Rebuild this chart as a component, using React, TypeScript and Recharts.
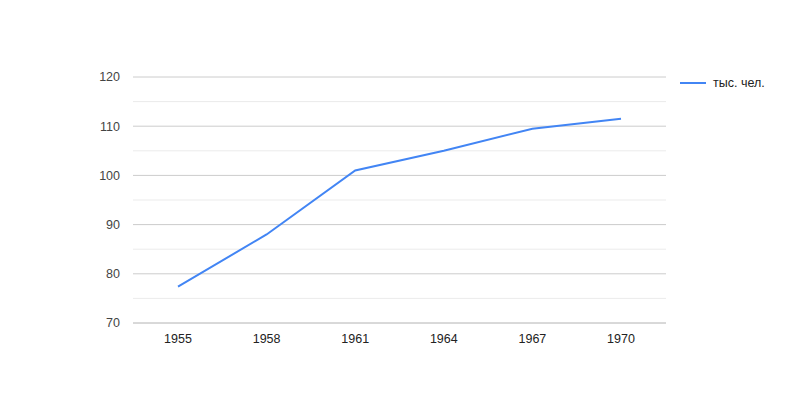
import { LineChart, Line, XAxis, YAxis, CartesianGrid, ReferenceLine } from 'recharts';

const years = ['1955', '1958', '1961', '1964', '1967', '1970'];
const population = [77.4, 88, 101, 105, 109.5, 111.5];
const majorTicks = [70, 80, 90, 100, 110, 120];
const minorTicks = [75, 85, 95, 105, 115];
const seriesName = 'тыс. чел.';

const data = years.map((year, i) => ({ year, value: population[i] }));

const FONT = '"Liberation Sans", Arial, sans-serif';

// legend drawn as plain html so it doesn't eat into the plot area
function LegendBox() {
  return (
    <div
      style={{
        position: 'absolute',
        left: 680,
        top: 76,
        display: 'flex',
        alignItems: 'center',
        fontFamily: FONT,
        fontSize: 12.5,
        color: '#222',
      }}
    >
      <svg width={26} height={4} style={{ marginRight: 7 }}>
        <line x1={0} y1={2} x2={26} y2={2} stroke="#4285f4" strokeWidth={2} />
      </svg>
      <span>{seriesName}</span>
    </div>
  );
}

export default function App() {
  return (
    <div style={{ position: 'absolute', left: 0, top: 0, width: 800, height: 400, background: '#fff' }}>
      <LineChart width={800} height={400} data={data} margin={{ top: 77, right: 134, left: 0, bottom: 0 }}>
        <CartesianGrid vertical={false} stroke="#cccccc" />
        {minorTicks.map((v) => (
          <ReferenceLine key={v} y={v} stroke="#ebebeb" />
        ))}
        <XAxis
          dataKey="year"
          padding={{ left: 45, right: 45 }}
          axisLine={{ stroke: '#cccccc' }}
          tickLine={false}
          tickSize={0}
          tickMargin={11}
          height={77}
          tick={{ fill: '#222', fontSize: 12.5, fontFamily: FONT }}
        />
        <YAxis
          domain={[70, 120]}
          ticks={majorTicks}
          width={133}
          axisLine={false}
          tickLine={false}
          tickSize={0}
          tickMargin={13}
          tick={{ fill: '#444', fontSize: 12.5, fontFamily: FONT }}
        />
        <Line
          type="linear"
          dataKey="value"
          name={seriesName}
          stroke="#4285f4"
          strokeWidth={2}
          dot={false}
          isAnimationActive={false}
        />
      </LineChart>
      <LegendBox />
    </div>
  );
}
